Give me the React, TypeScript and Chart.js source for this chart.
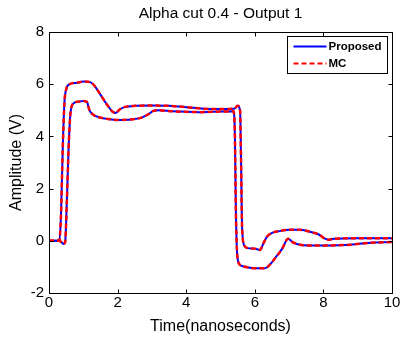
import React, { useEffect, useRef } from "react";
import { Chart, registerables } from "chart.js";

Chart.register(...registerables);

const titleText = "Alpha cut 0.4 - Output 1";
const xAxisTitle = "Time(nanoseconds)";
const yAxisTitle = "Amplitude (V)";
const seriesNames = ["Proposed", "MC"];
const xTicks = [0, 2, 4, 6, 8, 10];
const yTicks = [-2, 0, 2, 4, 6, 8];

// Upper bound curve
const upperTime = [0, 0.3, 0.35, 0.4, 0.45, 0.5, 0.6, 0.8, 1.0, 1.2, 1.35, 1.5, 1.7, 1.85, 1.95, 2.05, 2.2, 2.5, 3.0, 3.5, 4.0, 4.5, 5.0, 5.4, 5.5, 5.57, 5.6, 5.63, 5.7, 5.8, 6.0, 6.15, 6.25, 6.35, 6.5, 6.75, 7.0, 7.3, 7.6, 7.85, 8.05, 8.15, 8.3, 9.0, 10];
const upperAmp = [0, 0, 1, 3.5, 5.3, 5.8, 6.0, 6.05, 6.1, 6.08, 5.9, 5.6, 5.2, 4.95, 4.9, 5.02, 5.12, 5.17, 5.18, 5.17, 5.12, 5.06, 5.05, 5.06, 5.17, 5.0, 3.0, 0.5, -0.2, -0.28, -0.3, -0.35, -0.1, 0.15, 0.3, 0.38, 0.42, 0.42, 0.35, 0.25, 0.08, 0.04, 0.08, 0.1, 0.1];

// Lower bound curve
const lowerTime = [0, 0.3, 0.36, 0.42, 0.47, 0.52, 0.57, 0.62, 0.7, 0.85, 1.0, 1.1, 1.18, 1.3, 1.5, 1.7, 2.0, 2.4, 2.7, 2.9, 3.05, 3.2, 3.6, 4.4, 5.0, 5.38, 5.42, 5.45, 5.5, 5.6, 5.8, 6.0, 6.3, 6.45, 6.6, 6.8, 6.97, 7.1, 7.25, 7.6, 8.0, 8.8, 9.3, 10];
const lowerAmp = [0, 0, -0.05, -0.12, -0.05, 1.5, 3.5, 4.8, 5.25, 5.33, 5.36, 5.33, 5.0, 4.82, 4.72, 4.67, 4.63, 4.65, 4.72, 4.85, 4.98, 5.0, 4.96, 4.93, 4.95, 4.96, 4.0, 1.0, -0.7, -0.95, -1.02, -1.05, -1.05, -0.9, -0.65, -0.3, 0.08, -0.05, -0.13, -0.18, -0.18, -0.15, -0.08, -0.05];

const FONT = "'Liberation Sans', Arial, Helvetica, sans-serif";

const toPoints = (xs: number[], ys: number[]) => xs.map((x, i) => ({ x, y: ys[i] }));

const framePlugin = {
  id: "matlabFrame",
  afterDraw(chart: any) {
    const { ctx, chartArea: a, scales } = chart;
    ctx.save();
    ctx.strokeStyle = "#000";
    ctx.lineWidth = 1;
    const L = Math.round(a.left) + 0.5;
    const R = Math.round(a.right) + 0.5;
    const T = Math.round(a.top) + 0.5;
    const B = Math.round(a.bottom) + 0.5;
    ctx.beginPath();
    ctx.rect(L, T, R - L, B - T);
    ctx.stroke();
    const tl = 4;
    ctx.beginPath();
    xTicks.forEach((v) => {
      const px = Math.round(scales.x.getPixelForValue(v)) + 0.5;
      ctx.moveTo(px, B);
      ctx.lineTo(px, B - tl);
      ctx.moveTo(px, T);
      ctx.lineTo(px, T + tl);
    });
    yTicks.forEach((v) => {
      const py = Math.round(scales.y.getPixelForValue(v)) + 0.5;
      ctx.moveTo(L, py);
      ctx.lineTo(L + tl, py);
      ctx.moveTo(R, py);
      ctx.lineTo(R - tl, py);
    });
    ctx.stroke();

    // title
    ctx.fillStyle = "#000";
    ctx.font = `15.5px ${FONT}`;
    ctx.textAlign = "center";
    ctx.textBaseline = "middle";
    ctx.fillText(titleText, (a.left + a.right) / 2, 14);

    // legend
    const bw = 100;
    const bh = 37;
    const bx = Math.round(a.right) - 5 - bw + 0.5;
    const by = Math.round(a.top) + 4 + 0.5;
    ctx.fillStyle = "#fff";
    ctx.fillRect(bx, by, bw, bh);
    ctx.strokeStyle = "#000";
    ctx.lineWidth = 1;
    ctx.strokeRect(bx, by, bw, bh);
    const rows = [
      { name: seriesNames[0], color: "#0000ff", dash: [] as number[] },
      { name: seriesNames[1], color: "#ff0000", dash: [5, 3] },
    ];
    rows.forEach((r, i) => {
      const y = by + 10 + i * 17;
      ctx.strokeStyle = r.color;
      ctx.lineWidth = 2;
      ctx.setLineDash(r.dash);
      ctx.beginPath();
      ctx.moveTo(bx + 6, y);
      ctx.lineTo(bx + 39, y);
      ctx.stroke();
      ctx.setLineDash([]);
      ctx.fillStyle = "#000";
      ctx.font = `bold 11.5px ${FONT}`;
      ctx.textAlign = "left";
      ctx.textBaseline = "middle";
      ctx.fillText(r.name, bx + 41, y + 0.5);
    });
    ctx.restore();
  },
};

export default function App() {
  const canvasRef = useRef<HTMLCanvasElement | null>(null);

  useEffect(() => {
    document.body.style.margin = "0";
    const canvas = canvasRef.current;
    if (!canvas) return;
    const upper = toPoints(upperTime, upperAmp);
    const lower = toPoints(lowerTime, lowerAmp);
    const common = {
      pointRadius: 0,
      fill: false,
      cubicInterpolationMode: "monotone" as const,
    };
    const chart = new Chart(canvas, {
      type: "line",
      data: {
        // Chart.js draws the first dataset on top: MC (red dashed) over Proposed (blue)
        datasets: [
          { ...common, label: seriesNames[1], data: upper, borderColor: "#ff0000", borderWidth: 2.5, borderDash: [5, 3], order: 0 },
          { ...common, label: seriesNames[1], data: lower, borderColor: "#ff0000", borderWidth: 2.5, borderDash: [5, 3], order: 0 },
          { ...common, label: seriesNames[0], data: upper, borderColor: "#0000ff", borderWidth: 2, order: 1 },
          { ...common, label: seriesNames[0], data: lower, borderColor: "#0000ff", borderWidth: 2, order: 1 },
        ],
      },
      options: {
        responsive: false,
        animation: false,
        devicePixelRatio: 1,
        layout: { padding: { top: 32, right: 12, left: 0, bottom: 0 } },
        plugins: {
          legend: { display: false },
          tooltip: { enabled: false },
          title: { display: false },
        },
        scales: {
          x: {
            type: "linear",
            min: 0,
            max: 10,
            afterBuildTicks: (s: any) => {
              s.ticks = xTicks.map((v) => ({ value: v }));
            },
            afterFit: (s: any) => {
              s.height = 46;
            },
            ticks: {
              color: "#000",
              font: { family: FONT, size: 15 },
              padding: 1,
              maxRotation: 0,
              autoSkip: false,
            },
            grid: { display: true, drawOnChartArea: false, drawTicks: false },
            border: { display: true, color: "#000" },
            title: {
              display: true,
              text: xAxisTitle,
              color: "#000",
              font: { family: FONT, size: 16 },
              padding: { top: 0, bottom: 3 },
            },
          },
          y: {
            type: "linear",
            min: -2,
            max: 8,
            afterBuildTicks: (s: any) => {
              s.ticks = yTicks.map((v) => ({ value: v }));
            },
            afterFit: (s: any) => {
              s.width = 49;
            },
            ticks: {
              color: "#000",
              font: { family: FONT, size: 15 },
              padding: 5,
              autoSkip: false,
            },
            grid: { display: true, drawOnChartArea: false, drawTicks: false },
            border: { display: true, color: "#000" },
            title: {
              display: true,
              text: yAxisTitle,
              color: "#000",
              font: { family: FONT, size: 16 },
              padding: { top: 7, bottom: 0 },
            },
          },
        },
      },
      plugins: [framePlugin],
    });
    return () => chart.destroy();
  }, []);

  return (
    <div style={{ width: 404, height: 339, background: "#fff" }}>
      <canvas ref={canvasRef} width={404} height={339} style={{ display: "block" }} />
    </div>
  );
}
